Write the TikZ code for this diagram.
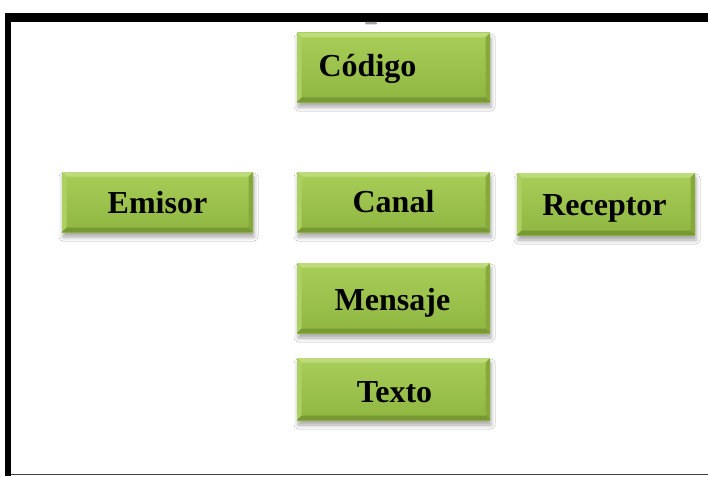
\documentclass[tikz,border=0pt]{standalone}
\usepackage{fontspec}
\setmainfont{Liberation Serif}
\usetikzlibrary{shadows.blur}
\definecolor{gtop}{HTML}{A8CE58}
\definecolor{gbot}{HTML}{8FB641}
\definecolor{bvtop}{HTML}{BEDB7C}
\definecolor{bvleft}{HTML}{ACD062}
\definecolor{bvright}{HTML}{86A83C}
\definecolor{bvbot}{HTML}{779833}
\tikzset{
  gbox/.style={draw=none, inner sep=0pt, top color=gtop, bottom color=gbot,
    blur shadow={shadow xshift=1pt, shadow yshift=-5pt, shadow blur radius=4pt, shadow opacity=35},
    path picture={
      \def\bw{4.5pt}
      \coordinate (nw) at (path picture bounding box.north west);
      \coordinate (ne) at (path picture bounding box.north east);
      \coordinate (sw) at (path picture bounding box.south west);
      \coordinate (se) at (path picture bounding box.south east);
      \fill[bvtop] (nw) -- (ne) -- ([xshift=-\bw,yshift=-\bw]ne) -- ([xshift=\bw,yshift=-\bw]nw) -- cycle;
      \fill[bvleft] (nw) -- ([xshift=\bw,yshift=-\bw]nw) -- ([xshift=\bw,yshift=\bw]sw) -- (sw) -- cycle;
      \fill[bvright] (ne) -- ([xshift=-\bw,yshift=-\bw]ne) -- ([xshift=-\bw,yshift=\bw]se) -- (se) -- cycle;
      \fill[bvbot] (sw) -- ([xshift=\bw,yshift=\bw]sw) -- ([xshift=-\bw,yshift=\bw]se) -- (se) -- cycle;
    }},
  lbl/.style={font=\fontsize{32}{36}\selectfont\bfseries, anchor=base, inner sep=0pt}
}
\begin{document}
\begin{tikzpicture}[x=1pt,y=-1pt]
\useasboundingbox[fill=white] (0,0) rectangle (708,476);
% frame
\fill[black] (5,13) rectangle (708,22);
\fill[black] (5,13) rectangle (11,476);
\draw[black!75, line width=1.5pt] (11,474.5) -- (708,474.5);
\fill[black!35, rounded corners=1pt] (365,22) rectangle (377,24.5);
% boxes
\node[gbox, minimum width=193pt, minimum height=69pt] (codigo) at (393.5,67.5) {};
\node[gbox, minimum width=191pt, minimum height=60pt] (emisor) at (157.5,202) {};
\node[gbox, minimum width=193pt, minimum height=60pt] (canal) at (393.5,202) {};
\node[gbox, minimum width=178pt, minimum height=62pt] (receptor) at (606,204) {};
\node[gbox, minimum width=193pt, minimum height=70pt] (mensaje) at (393.5,298) {};
\node[gbox, minimum width=193pt, minimum height=62pt] (texto) at (393.5,389) {};
% labels
\node[lbl] (codigoT) at (367.5,77) {Código};
\node[lbl] (emisorT) at (157.5,213) {Emisor};
\node[lbl] (canalT) at (393.5,212) {Canal};
\node[lbl] (receptorT) at (604.5,215) {Receptor};
\node[lbl] (mensajeT) at (392.5,310) {Mensaje};
\node[lbl] (textoT) at (394.5,402) {Texto};
\end{tikzpicture}
\end{document}
